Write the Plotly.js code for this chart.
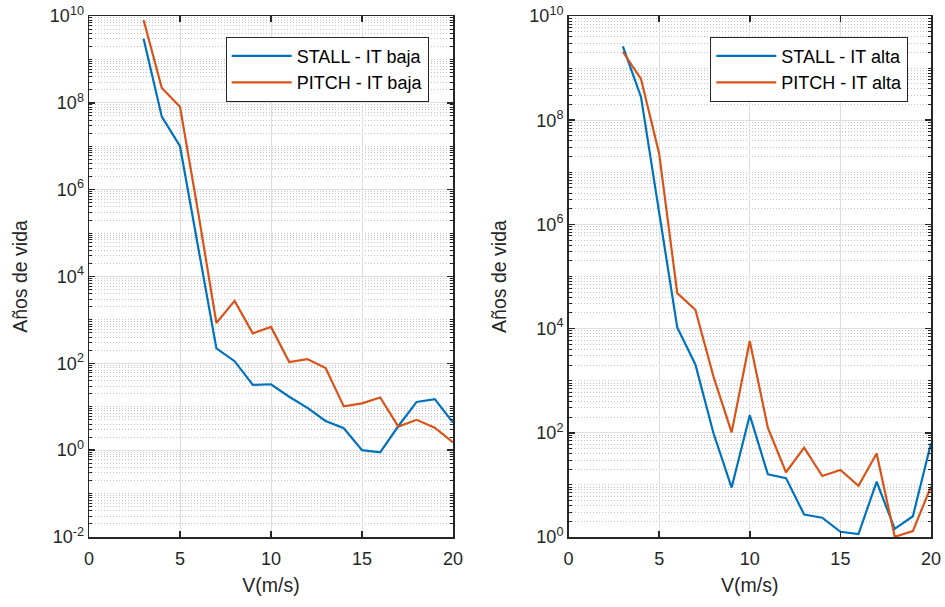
<!DOCTYPE html>
<html>
<head>
<meta charset="utf-8">
<script src="https://cdn.plot.ly/plotly-3.0.1.min.js"></script>
<style>html,body{margin:0;padding:0;background:#fff;}#chart{width:945px;height:607px;}</style>
</head>
<body>
<div id="chart"></div>
<script>
// Data
const V = [3, 4, 5, 6, 7, 8, 9, 10, 11, 12, 13, 14, 15, 16, 17, 18, 19, 20];
const stallBaja = [3e9, 4.8e7, 1e7, 5e4, 220, 112, 32, 33, 17, 9.4, 4.7, 3.2, 1.0, 0.89, 3.6, 12.9, 15, 4.3];
const pitchBaja = [8.1e9, 2.2e8, 8.1e7, 3e5, 850, 2750, 490, 690, 107, 125, 78, 10.2, 12, 16.3, 3.5, 5.0, 3.3, 1.5];
const stallAlta = [2.6e9, 2.8e8, 1.7e6, 1.05e4, 2050, 98, 8.9, 218, 15.9, 13.5, 2.7, 2.35, 1.26, 1.14, 11.5, 1.43, 2.5, 63];
const pitchAlta = [2.06e9, 6.2e8, 2.3e7, 4.8e4, 2.3e4, 1200, 102, 5800, 124, 17.5, 52, 14.8, 19.4, 9.6, 40, 1.01, 1.3, 9.3];
const names = ['STALL - IT baja', 'PITCH - IT baja', 'STALL - IT alta', 'PITCH - IT alta'];
const yExpLeft = [-2, 0, 2, 4, 6, 8, 10];
const yExpRight = [0, 2, 4, 6, 8, 10];
const xTicks = [0, 5, 10, 15, 20];
const xTitle = 'V(m/s)';
const yTitle = 'Años de vida';

const BLUE = '#0072BD', ORANGE = '#D95319', INK = '#262626';
const W = 945, H = 607;

const traces = [
  {x: V, y: stallBaja, name: names[0], xaxis: 'x', yaxis: 'y', legend: 'legend', line: {color: BLUE, width: 2.2}},
  {x: V, y: pitchBaja, name: names[1], xaxis: 'x', yaxis: 'y', legend: 'legend', line: {color: ORANGE, width: 2.2}},
  {x: V, y: stallAlta, name: names[2], xaxis: 'x2', yaxis: 'y2', legend: 'legend2', line: {color: BLUE, width: 2.2}},
  {x: V, y: pitchAlta, name: names[3], xaxis: 'x2', yaxis: 'y2', legend: 'legend2', line: {color: ORANGE, width: 2.2}}
].map(t => Object.assign({type: 'scatter', mode: 'lines', hoverinfo: 'skip'}, t));

const font = {family: 'Liberation Sans, Arial, sans-serif', size: 18, color: INK};

function xAxis(domain, anchor) {
  return {
    domain: domain, anchor: anchor, range: [0, 20],
    tickmode: 'array', tickvals: xTicks, ticktext: xTicks.map(String),
    showline: true, linecolor: INK, linewidth: 1.5, mirror: 'ticks',
    ticks: 'inside', ticklen: 6, tickcolor: INK, tickwidth: 1.5,
    showgrid: true, gridcolor: '#dedede', gridwidth: 1, zeroline: false,
    tickfont: font, ticklabelstandoff: 5,
    title: {text: xTitle, font: {family: font.family, size: 19.5, color: INK}, standoff: 10}
  };
}
function yAxis(range, anchor, exps) {
  return {
    domain: [1 - 537 / H, 1 - 16 / H], anchor: anchor, type: 'log', range: range,
    tickmode: 'array', tickvals: exps.map(e => Math.pow(10, e)),
    ticktext: exps.map(e => '10<sup>' + e + '</sup>'),
    showline: true, linecolor: INK, linewidth: 1.5, mirror: 'ticks',
    ticks: 'inside', ticklen: 6, tickcolor: INK, tickwidth: 1.5,
    showgrid: true, gridcolor: '#dedede', gridwidth: 1, zeroline: false,
    minor: {dtick: 'D1', ticks: 'inside', ticklen: 3, tickcolor: INK, tickwidth: 1,
            showgrid: true, gridcolor: '#c4c4c4', griddash: '1px,2px', gridwidth: 1},
    tickfont: font,
    title: {text: yTitle, font: {family: font.family, size: 19.5, color: INK}, standoff: 17}
  };
}

const legendBase = {
  bgcolor: '#ffffff', bordercolor: INK, borderwidth: 1,
  font: {family: font.family, size: 18, color: '#000'},
  xanchor: 'left', yanchor: 'top', tracegroupgap: 0, itemwidth: 60
};

const layout = {
  width: W, height: H,
  margin: {l: 0, r: 0, t: 0, b: 0},
  paper_bgcolor: '#fff', plot_bgcolor: '#fff',
  font: font,
  xaxis: xAxis([89 / W, 453 / W], 'y'),
  yaxis: yAxis([-2, 10], 'x', yExpLeft),
  xaxis2: xAxis([568.5 / W, 931 / W], 'y2'),
  yaxis2: yAxis([0, 10], 'x2', yExpRight),
  legend: Object.assign({x: 225.7 / W, y: 1 - 36.7 / H}, legendBase),
  legend2: Object.assign({x: 710.3 / W, y: 1 - 36.7 / H}, legendBase),
  showlegend: true
};

Plotly.newPlot('chart', traces, layout, {staticPlot: true, displayModeBar: false});
</script>
</body>
</html>
